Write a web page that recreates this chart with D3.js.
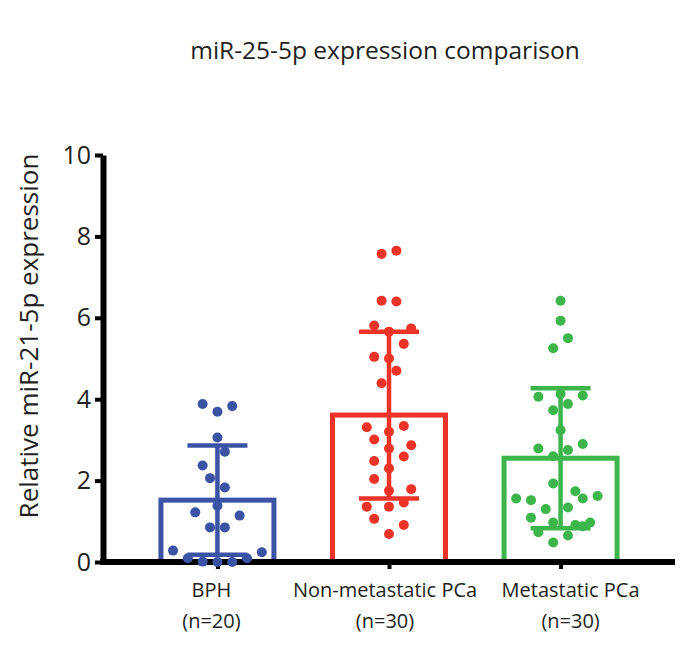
<!DOCTYPE html>
<html>
<head>
<meta charset="utf-8">
<script src="https://cdn.jsdelivr.net/npm/d3@7"></script>
<style>
  body { margin: 0; background: #fff; }
  svg { display: block; }
  text { font-family: "Open Sans", "Noto Sans", sans-serif; fill: #231f20; }
</style>
</head>
<body>
<svg id="chart" width="700" height="653"></svg>
<script>
// ---- data ----
const categories = ["BPH", "Non-metastatic PCa", "Metastatic PCa"];
const groupSizes = ["(n=20)", "(n=30)", "(n=30)"];
const means = [1.52, 3.61, 2.55];
const sds = [1.34, 2.05, 1.72];
const yTicks = [0, 2, 4, 6, 8, 10];

const bphValues = [3.88, 3.69, 3.83, 3.06, 2.71, 2.37, 2.06, 1.83, 1.38, 1.22, 1.14, 0.85, 0.85, 0.28, 0.24, 0.09, 0.01, 0.0, 0.0, 0.09];
const bphSlots  = [-2, 0, 2, 0, 1, -2, -1, 1, 0, -3, 3, -1, 1, -6, 6, -4, -2, 0, 2, 4];

const nonMetValues = [7.57, 7.65, 6.42, 6.40, 5.81, 5.74, 5.66, 5.36, 5.04, 5.00, 4.70, 4.39, 3.31, 3.34, 3.20, 3.01, 2.87, 2.79, 2.59, 2.48, 2.30, 2.04, 1.75, 1.79, 1.36, 1.36, 1.46, 1.06, 0.91, 0.69];
const nonMetSlots  = [-1, 1, -1, 1, -2, 3, 0, 2, -2, 0, 1, -1, -3, 2, 0, -2, 3, 0, 2, -2, 0, -2, 0, 3, -3, 0, 2, -2, 2, 0];

const metValues = [6.42, 5.93, 5.50, 5.25, 4.06, 4.13, 4.09, 3.73, 3.88, 3.24, 2.79, 2.75, 2.90, 2.60, 1.93, 1.74, 1.56, 1.52, 1.56, 1.62, 1.30, 1.34, 1.09, 0.97, 0.91, 0.88, 0.97, 0.73, 0.65, 0.48];
const metSlots  = [0, 0, 1, -1, -3, 0, 3, -1, 1, 0, -3, 1, 3, -1, -1, 2, -6, -4, 3, 5, -2, 1, -4, -1, 2, 3, 4, -3, 1, -1];

const colors = ["#3a53a4", "#ed3327", "#3cb54a"];
const title = "miR-25-5p expression comparison";
const yLabel = "Relative miR-21-5p expression";

// ---- layout ----
const svg = d3.select("#chart");
const x0 = 103, x1 = 675, yTop = 155, yBottom = 562;
const labelShift = [-6, -4, 10];

const x = d3.scalePoint().domain(categories).range([x0, x1]).padding(0.667);
const y = d3.scaleLinear().domain([0, 10]).range([yBottom, yTop]);
const slot = d3.scaleLinear().domain([-1, 1]).range([-7.4, 7.4]);
const barWidth = 113;
const capWidth = 60;

const groups = categories.map((c, i) => ({
  cat: c, mean: means[i], sd: sds[i], color: colors[i],
  values: [bphValues, nonMetValues, metValues][i],
  slots: [bphSlots, nonMetSlots, metSlots][i]
}));

// bars
svg.append("g").selectAll("rect").data(groups).join("rect")
  .attr("x", d => x(d.cat) - barWidth / 2)
  .attr("y", d => y(d.mean))
  .attr("width", barWidth)
  .attr("height", d => y(0) - y(d.mean))
  .attr("fill", "none")
  .attr("stroke", d => d.color)
  .attr("stroke-width", 5);

// error bars
const eb = svg.append("g").selectAll("g").data(groups).join("g")
  .attr("stroke", d => d.color).attr("stroke-width", 4.5);
eb.append("line")
  .attr("x1", d => x(d.cat)).attr("x2", d => x(d.cat))
  .attr("y1", d => y(Math.max(0, d.mean - d.sd))).attr("y2", d => y(d.mean + d.sd));
eb.append("line")
  .attr("x1", d => x(d.cat) - capWidth / 2).attr("x2", d => x(d.cat) + capWidth / 2)
  .attr("y1", d => y(d.mean + d.sd)).attr("y2", d => y(d.mean + d.sd));
eb.append("line")
  .attr("x1", d => x(d.cat) - capWidth / 2).attr("x2", d => x(d.cat) + capWidth / 2)
  .attr("y1", d => y(Math.max(0, d.mean - d.sd))).attr("y2", d => y(Math.max(0, d.mean - d.sd)));

// axes
const yAxis = svg.append("g").attr("transform", `translate(${x0},0)`)
  .call(d3.axisLeft(y).tickValues(yTicks).tickSize(8).tickSizeOuter(0).tickPadding(4));
yAxis.select(".domain").attr("stroke", "#000").attr("stroke-width", 6);
yAxis.selectAll(".tick line").attr("stroke", "#000").attr("stroke-width", 4);
yAxis.selectAll(".tick text").attr("font-size", 25).attr("font-family", "Open Sans").attr("fill", "#231f20");

const xAxis = svg.append("g").attr("transform", `translate(0,${yBottom})`)
  .call(d3.axisBottom(x).tickSize(7).tickSizeOuter(0).tickFormat(""));
xAxis.select(".domain").attr("stroke", "#000").attr("stroke-width", 6)
  .attr("d", `M${x0 - 3},0H${x1}`);
xAxis.selectAll(".tick line").attr("stroke", "#000").attr("stroke-width", 4);

// category labels
svg.append("g").selectAll("text").data(categories).join("text")
  .attr("x", (d, i) => x(d) + labelShift[i]).attr("y", 597)
  .attr("text-anchor", "middle").attr("font-size", 20)
  .text(d => d);
svg.append("g").selectAll("text").data(groupSizes).join("text")
  .attr("x", (d, i) => x(categories[i]) + labelShift[i]).attr("y", 628)
  .attr("text-anchor", "middle").attr("font-size", 20)
  .text(d => d);

// dots
groups.forEach(g => {
  svg.append("g").selectAll("circle").data(g.values).join("circle")
    .attr("cx", (v, i) => x(g.cat) + slot(g.slots[i]))
    .attr("cy", v => y(v))
    .attr("r", 5)
    .attr("fill", g.color);
});

// title
svg.append("text").attr("x", 385).attr("y", 59)
  .attr("text-anchor", "middle").attr("font-size", 24.5)
  .text(title);

// y label
svg.append("text")
  .attr("transform", `translate(38,336) rotate(-90)`)
  .attr("text-anchor", "middle").attr("font-size", 26)
  .text(yLabel);
</script>
</body>
</html>
